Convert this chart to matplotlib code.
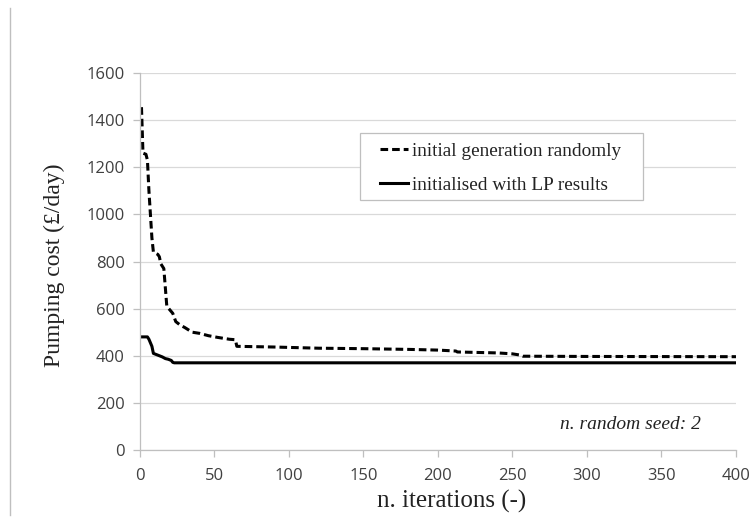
import matplotlib
matplotlib.use("Agg")
import matplotlib.pyplot as plt
from matplotlib.lines import Line2D
from matplotlib.patches import Rectangle

# Data
random_iter = [1, 2, 4, 5, 6, 7, 8, 9, 12, 13, 14, 16, 17, 18, 20, 22, 24, 27, 30,
               35, 40, 46, 52, 60, 64, 65, 90, 120, 150, 180, 200, 212, 213, 240,
               250, 255, 257, 300, 400]
random_cost = [1455, 1260, 1255, 1230, 1100, 1000, 900, 840, 830, 820, 790, 770, 690,
               610, 595, 580, 545, 530, 520, 500, 495, 485, 478, 470, 468, 440, 437,
               432, 430, 427, 424, 420, 416, 412, 408, 403, 398, 397, 396]
lp_iter = [0, 5, 6, 7, 8, 9, 11, 13, 15, 17, 19, 21, 22, 23, 400]
lp_cost = [480, 480, 470, 455, 440, 410, 405, 400, 395, 388, 385, 380, 372, 370, 370]

x_ticks = [0, 50, 100, 150, 200, 250, 300, 350, 400]
y_ticks = [0, 200, 400, 600, 800, 1000, 1200, 1400, 1600]

serif = "Liberation Serif"
sans = "Open Sans"

fig = plt.figure(figsize=(7.51, 5.23), dpi=100)
ax = fig.add_axes([0.1864, 0.1396, 0.7936, 0.7208])

ax.plot(random_iter, random_cost, color="black", lw=2.2, ls=(0, (2.5, 1.3)),
        label="initial generation randomly", dash_capstyle="butt")
ax.plot(lp_iter, lp_cost, color="black", lw=2.2, label="initialised with LP results")

ax.set_xlim(0, 400)
ax.set_ylim(0, 1600)
ax.set_xticks(x_ticks)
ax.set_yticks(y_ticks)
ax.grid(axis="y", color="#d9d9d9", lw=0.9)
ax.set_axisbelow(True)
for s in ["top", "right"]:
    ax.spines[s].set_visible(False)
for s in ["left", "bottom"]:
    ax.spines[s].set_color("#bfbfbf")
    ax.spines[s].set_linewidth(0.9)
ax.tick_params(axis="both", colors="#bfbfbf", length=5, width=0.9,
               labelcolor="#404040", labelsize=12)
for lab in ax.get_xticklabels() + ax.get_yticklabels():
    lab.set_fontfamily(sans)
ax.tick_params(axis="x", pad=8)
ax.tick_params(axis="y", pad=6)

ax.set_ylabel("Pumping cost (£/day)", fontfamily=serif, fontsize=17, color="#222222")
ax.yaxis.set_label_coords(-0.125, 0.49)
ax.set_xlabel("n. iterations (-)", fontfamily=serif, fontsize=18, color="#222222")
ax.xaxis.set_label_coords(0.523, -0.106)

# legend frame drawn separately
ax.add_patch(Rectangle((0.369, 0.663), 0.475, 0.178, transform=ax.transAxes,
                       facecolor="white", edgecolor="#bfbfbf", lw=0.9, zorder=4))
leg = ax.legend(loc="upper left", bbox_to_anchor=(0.403, 0.816), borderaxespad=0,
                prop={"family": serif, "size": 13.9}, frameon=False,
                handlelength=1.45, handletextpad=0.2, labelspacing=0.86, borderpad=0)
leg.set_zorder(5)
for t in leg.get_texts():
    t.set_color("#222222")

ax.text(329, 110, "n. random seed: 2", fontfamily=serif, style="italic", fontsize=14,
        ha="center", va="center", color="#222222")

fig.add_artist(Line2D([10 / 751, 10 / 751], [8 / 523, 515 / 523], transform=fig.transFigure,
                      color="#bfbfbf", lw=1))

fig.savefig("out.png", dpi=100)
